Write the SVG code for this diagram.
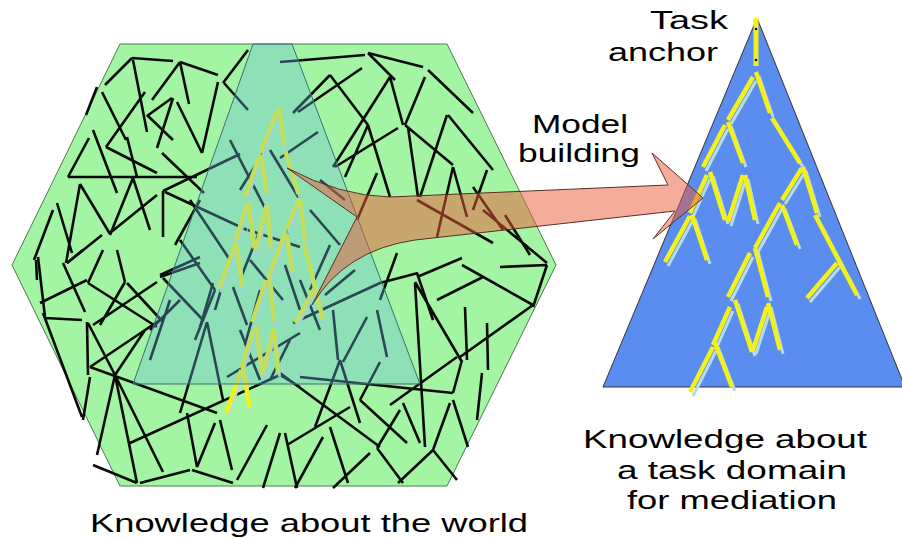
<svg xmlns="http://www.w3.org/2000/svg" xmlns:xlink="http://www.w3.org/1999/xlink" width="902" height="539" viewBox="0 0 902 539">
<style>
.sticks{fill:none;stroke:#0a0a0a;stroke-width:2.6;stroke-linecap:butt}
.ylw{fill:none;stroke:#f2f21a;stroke-width:4.5;stroke-linecap:butt}
.shd{fill:none;stroke:#b8dce6;stroke-width:3;stroke-linecap:butt}
.lbl{font-family:"Liberation Sans",Arial,sans-serif;font-size:26px;fill:#000}
</style>
<defs>
<path id="treeSegs" vector-effect="non-scaling-stroke" d="M753 77L728 120M756 72L770 113M772 118L800 163M725 125L703 167M728 122L743 163M710 172L725 220M728 222L743 175M745 175L755 220M707 175L690 213M690 216L665 262M692 215L707 260M802 168L782 200M803 167L817 213M815 215L857 295M837 263L807 298M780 203L755 248M782 205L797 245M750 253L728 297M755 248L768 297M730 307L713 345M735 300L752 352M753 350L767 307M768 303L780 350M713 347L690 392M715 343L732 387"/>
<g id="tree">
<use xlink:href="#treeSegs" class="shd" transform="translate(3,4)"/>
<use xlink:href="#treeSegs" class="ylw"/>
</g>
</defs>

<g id="world">
<polygon points="120,44 447,44 556,265 447,486 120,486 12,265" fill="#a3f5a3" stroke="#4c7a4c" stroke-width="1"/>
<path class="sticks" d="M132 58L173 61M132 58L105 85M133 60L147 132M180 62L152 100M180 62L189 104M180 62L218 75M218 82L202 153M223 83L248 50M224 83L248 110M177 102L202 153M173 98L157 148M172 98L147 116M145 92L106 147M102 92L126 140M147 115L173 140M106 147L157 173M97 87L86 115M89 138L68 177M93 130L117 193M68 177L197 177M127 137L137 177M162 153L204 193M163 191L240 154M163 191L163 237M165 192L247 230M80 184L66 263M80 184L110 234M57 203L72 253M53 210L34 260M110 235L133 178M133 178L150 230M110 233L157 195M67 263L102 235M230 140L267 212M248 230L300 247M160 277L200 263M36 260L37 280"/>
<path class="sticks" d="M38 257L45 317M63 263L85 312M67 263L83 250M88 283L103 250M88 283L157 327M40 303L87 280M45 318L82 320M43 313L82 417M117 250L125 282M125 282L100 325M127 283L163 322M157 282L93 325M160 275L200 257M87 322L88 375M88 323L115 375M90 367L160 320M115 375L97 455M115 375L137 483M115 375L163 472M115 375L145 330M90 367L217 413M90 377L83 420M130 443L280 375M280 375L300 387M93 465L137 483M140 483L190 470M192 470L233 483M180 413L207 322M207 322L223 400M187 413L197 467M197 467L215 423M220 420L232 470M237 480L267 425M280 433L263 488M285 433L297 488M227 377L300 333M200 327L213 283M233 287L247 325M163 278L203 320"/>
<path class="sticks" d="M280 62L365 55M368 53L423 67M368 53L395 80M390 77L333 167M390 77L403 125M428 70L473 113M425 77L405 125M330 75L368 125M330 75L293 113M298 112L362 68M280 158L318 132M368 125L345 177M368 125L390 197M398 128L335 167M405 125L453 165M408 127L418 197M447 115L420 197M448 115L493 170M377 173L357 220M453 167L437 237M453 167L467 217M487 170L473 210M473 187L503 230M417 200L493 243M483 210L547 263M505 215L530 255"/>
<path class="sticks" d="M415 283L425 447M415 282L462 362M380 283L418 273M417 277L462 258M437 300L483 277M462 265L533 305M500 267L547 265M547 265L533 307M465 307L467 360M533 305L460 357M487 323L488 370M462 360L453 393M457 357L390 405M453 393L300 377M453 400L468 447M482 373L477 420M450 403L433 450M433 450L398 483M433 450L457 480M403 403L420 443M400 410L377 448M360 400L407 443M360 400L380 362M340 360L315 427M340 360L360 423M367 317L343 362M377 310L387 357M333 310L338 360M280 373L380 447M350 407L287 445M330 427L348 483M370 453L333 488M377 448L403 483M323 437L295 488M293 323L380 283M397 253L380 300M417 273L433 320"/>
<path class="sticks" d="M270 150L300 200M300 200L283 245M180 240L215 290M215 290L195 340M250 260L283 300M300 280L320 330M240 330L260 380M170 300L150 360M190 200L230 260M230 260L215 310M260 230L240 280M285 265L300 310M310 210L340 245M330 245L310 290M260 290L245 345M290 340L270 380M200 200L175 245M240 190L265 150M150 330L180 300M320 180L345 200M325 295L355 270"/>
<g id="worldTree" transform="matrix(0.55,0,-0.05,0.957,-133.45,37.8)">
<use xlink:href="#tree"/>
</g>
<polygon points="253,44 292,44 420,384 133,384" fill="#66bbdd" fill-opacity="0.35" stroke="#3d6f6f" stroke-width="1"/>
</g>

<g id="domain">
<polygon points="757,18 603,387 905,387" fill="#5b8cf0" stroke="#333" stroke-width="1"/>
<path d="M756 18L756 66" fill="none" stroke="#f2f21a" stroke-width="5"/>
<circle cx="756" cy="29" r="1.3" fill="#000"/>
<circle cx="756" cy="60" r="1.3" fill="#000"/>
<use xlink:href="#tree"/>
</g>

<g id="arrow">
<path d="M287 168Q340 196 390 197L668 185L652 153L703 198L653 239L675 211L415 240Q345 250 312 305L357 217Z" fill="rgb(235,90,55)" fill-opacity="0.5" stroke="#5a3020" stroke-width="1"/>
</g>

<g id="labels">
<text class="lbl" x="650" y="29" textLength="78" lengthAdjust="spacingAndGlyphs">Task</text>
<text class="lbl" x="608" y="61" textLength="110" lengthAdjust="spacingAndGlyphs">anchor</text>
<text class="lbl" x="532" y="133" textLength="96" lengthAdjust="spacingAndGlyphs">Model</text>
<text class="lbl" x="518" y="162" textLength="122" lengthAdjust="spacingAndGlyphs">building</text>
<text class="lbl" x="583" y="448" textLength="284" lengthAdjust="spacingAndGlyphs">Knowledge about</text>
<text class="lbl" x="617" y="479" textLength="230" lengthAdjust="spacingAndGlyphs">a task domain</text>
<text class="lbl" x="627" y="509" textLength="210" lengthAdjust="spacingAndGlyphs">for mediation</text>
<text class="lbl" x="90" y="532" textLength="438" lengthAdjust="spacingAndGlyphs">Knowledge about the world</text>
</g>
</svg>
